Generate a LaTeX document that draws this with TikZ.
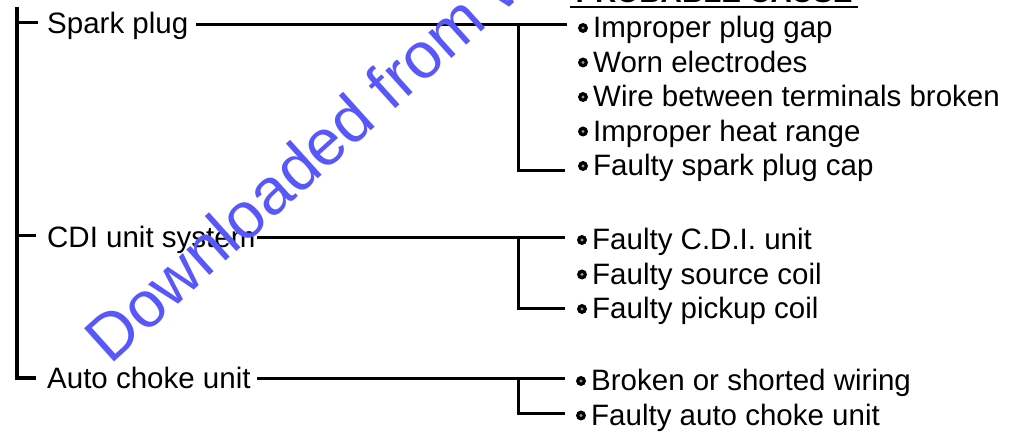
\documentclass[tikz,border=0pt]{standalone}
\usepackage{fontspec}
\setmainfont{Liberation Sans}
\begin{document}
\begin{tikzpicture}[x=1pt,y=1pt,
  txt/.style={anchor=base west, inner sep=0pt, font=\fontsize{29.5}{32}\selectfont},
  ln/.style={line width=3pt, line cap=butt},
  trunk/.style={line width=4pt},
  bul/.style={circle, fill=black, minimum size=10pt, inner sep=0pt,
    path picture={\fill[black!40] (path picture bounding box.center) circle (1.6pt);}},
  wm/.style={anchor=base west, inner sep=0pt, text=wmblue, font=\fontsize{65}{65}\selectfont}
]
\definecolor{wmblue}{RGB}{88,88,250}
\useasboundingbox (0,0) rectangle (1013,444);
\clip (0,0) rectangle (1013,444);

% header (cut off at top)
\node[anchor=base, inner sep=0pt, font=\fontsize{29.5}{32}\selectfont\bfseries] (hd) at (714,441) {PROBABLE CAUSE};
\coordinate (hdL) at (570,437);
\coordinate (hdR) at (858,437);
\draw[line width=2pt] (hdL) -- (hdR);

% left trunk
\coordinate (tTop) at (17,437);
\coordinate (tBot) at (17,66);
\coordinate (tk1) at (38,421);
\coordinate (tk2) at (36,208);
\coordinate (tk3) at (36,66);
\draw[trunk] (tTop) -- (tBot) -- (tk3);
\draw[ln] (17,421) -- (tk1);
\draw[ln] (17,208) -- (tk2);

% left labels
\node[txt] (sp) at (47,410) {Spark plug};
\node[txt] (cdi) at (47,196) {CDI unit system};
\node[txt] (ac) at (47,55) {Auto choke unit};

% spark plug branch
\coordinate (spS) at (196,419);
\coordinate (spJ) at (518,419);
\coordinate (spE) at (567,419);
\coordinate (spB) at (518,273);
\coordinate (spBE) at (565,273);
\draw[ln] (spS) -- (spE);
\draw[ln] (spJ) -- (spB) -- (spBE);

% cdi branch
\coordinate (cdS) at (257,206);
\coordinate (cdJ) at (518,206);
\coordinate (cdE) at (565,206);
\coordinate (cdB) at (518,135);
\coordinate (cdBE) at (565,135);
\draw[ln] (cdS) -- (cdE);
\draw[ln] (cdJ) -- (cdB) -- (cdBE);

% auto choke branch
\coordinate (acS) at (257,65);
\coordinate (acJ) at (518,65);
\coordinate (acE) at (565,65);
\coordinate (acB) at (518,30);
\coordinate (acBE) at (565,30);
\draw[ln] (acS) -- (acE);
\draw[ln] (acJ) -- (acB) -- (acBE);

% causes
\node[bul] (b1) at (583,416) {};
\node[txt] (c1) at (593,406) {Improper plug gap};
\node[bul] (b2) at (583,381.5) {};
\node[txt] (c2) at (593,371.5) {Worn electrodes};
\node[bul] (b3) at (583,347) {};
\node[txt] (c3) at (593,337) {Wire between terminals broken};
\node[bul] (b4) at (583,312.5) {};
\node[txt] (c4) at (593,302.5) {Improper heat range};
\node[bul] (b5) at (583,278) {};
\node[txt] (c5) at (593,268) {Faulty spark plug cap};

\node[bul] (b6) at (582,204) {};
\node[txt] (c6) at (592,194) {Faulty C.D.I. unit};
\node[bul] (b7) at (582,169.5) {};
\node[txt] (c7) at (592,159.5) {Faulty source coil};
\node[bul] (b8) at (582,135) {};
\node[txt] (c8) at (592,125) {Faulty pickup coil};

\node[bul] (b9) at (581,63) {};
\node[txt] (c9) at (591,53) {Broken or shorted wiring};
\node[bul] (b10) at (581,28.5) {};
\node[txt] (c10) at (591,18.5) {Faulty auto choke unit};

% watermark
\node[wm, rotate=42] (wmk) at (110,78) {Downloaded from www.Manualslib.com};
\end{tikzpicture}
\end{document}
